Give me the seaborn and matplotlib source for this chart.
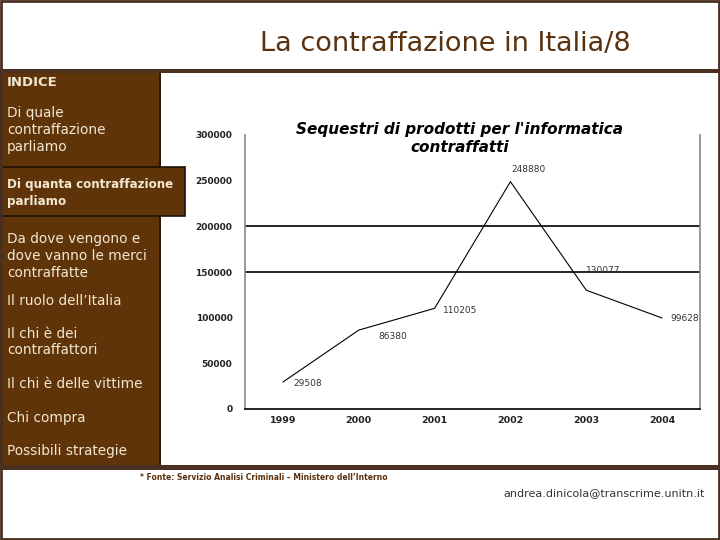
import matplotlib
matplotlib.use("Agg")
import matplotlib.pyplot as plt
from matplotlib.patches import Rectangle
import seaborn as sns
import pandas as pd

# ---- data ----
years = ["1999", "2000", "2001", "2002", "2003", "2004"]
seizures = [29508, 86380, 110205, 248880, 130077, 99628]
y_ticks = [0, 50000, 100000, 150000, 200000, 250000, 300000]
grid_values = [150000, 200000]

slide_title = "La contraffazione in Italia/8"
chart_title_lines = ["Sequestri di prodotti per l'informatica", "contraffatti"]
menu_items = [
    "INDICE",
    "Di quale\ncontraffazione\nparliamo",
    "Di quanta contraffazione\nparliamo",
    "Da dove vengono e\ndove vanno le merci\ncontraffatte",
    "Il ruolo dell\u2019Italia",
    "Il chi è dei\ncontraffattori",
    "Il chi è delle vittime",
    "Chi compra",
    "Possibili strategie",
]
source_note = "* Fonte: Servizio Analisi Criminali \u2013 Ministero dell\u2019Interno"
email = "andrea.dinicola@transcrime.unitn.it"

df = pd.DataFrame({"anno": years, "sequestri": seizures})

sns.set_theme(style="white")
plt.rcParams["font.family"] = ["DejaVu Sans"]

W, H = 720, 540
fig = plt.figure(figsize=(7.2, 5.4), dpi=100)
fig.patch.set_facecolor("white")

BROWN = "#5e3408"
DARK = "#4a3020"
CREAM = "#f3e7d2"


def fx(x):
    return x / W


def fy(y):
    return 1 - y / H


def rect(x0, y0, x1, y1, fc, ec="none", lw=0, z=0):
    fig.patches.append(Rectangle((fx(x0), fy(y1)), fx(x1) - fx(x0), fy(y0) - fy(y1),
                                 transform=fig.transFigure, facecolor=fc,
                                 edgecolor=ec, linewidth=lw, zorder=z))


# slide frame
rect(1, 1, 719, 539, "none", ec=DARK, lw=2, z=5)
# header separator
rect(0, 69, 720, 73, DARK, z=2)
# sidebar
rect(0, 73, 160, 466, BROWN, z=1)
rect(159, 73, 161, 466, "#2b1a0a", z=2)
# footer separator
rect(0, 465, 720, 470, DARK, z=2)
# highlighted menu item
rect(0, 167, 185, 216, BROWN, ec="#1e1206", lw=1.2, z=3)

fig.text(fx(445), fy(44), slide_title, ha="center", va="center",
         fontsize=19.5, color="#5a3210", zorder=6)

menu_y = [83, 130, 193, 256, 301, 342, 384, 418, 451]
menu_size = [9.5, 9.8, 8.6, 9.8, 9.8, 9.8, 9.8, 9.8, 9.8]
for i, (txt, yy, fs) in enumerate(zip(menu_items, menu_y, menu_size)):
    bold = i in (0, 2)
    fig.text(fx(7), fy(yy), txt, ha="left", va="center", fontsize=fs,
             color=CREAM, fontweight="bold" if bold else "normal",
             linespacing=1.25 if i != 2 else 1.35, zorder=6)

fig.text(fx(140), fy(477), source_note, ha="left", va="center", fontsize=5.5,
         fontweight="bold", color="#5a3210", zorder=6)
fig.text(fx(705), fy(493), email, ha="right", va="center", fontsize=8,
         color="#333333", zorder=6)

# ---- chart ----
ax = fig.add_axes([fx(245), fy(409), fx(700) - fx(245), fy(135) - fy(409)])
ax.set_facecolor("none")
sns.lineplot(data=df, x="anno", y="sequestri", ax=ax, color="black",
             linewidth=0.8, sort=False)
ax.set_xlim(-0.5, len(years) - 0.5)
ax.set_ylim(0, 300000)
ax.set_yticks(y_ticks)
ax.set_yticklabels([str(v) for v in y_ticks], fontsize=6.5, fontweight="bold",
                   color="#222222")
ax.set_xticks(range(len(years)))
ax.set_xticklabels(years, fontsize=6.8, fontweight="bold", color="#222222")
ax.set_xticks([i + 0.5 for i in range(len(years) - 1)], minor=True)
ax.tick_params(axis="x", which="major", length=0, pad=5)
ax.tick_params(axis="x", which="minor", length=3, direction="out", color="#555555")
ax.tick_params(axis="y", length=3, direction="out", color="#555555", pad=6)
ax.set_xlabel("")
ax.set_ylabel("")
for v in grid_values:
    ax.axhline(v, color="black", linewidth=1.2, zorder=1)
for s in ("left", "right"):
    ax.spines[s].set_color("#888888")
    ax.spines[s].set_linewidth(1.2)
ax.spines["bottom"].set_color("black")
ax.spines["bottom"].set_linewidth(1.2)
ax.spines["top"].set_visible(False)

offsets = [(10, -1, "left"), (20, -6, "left"), (8, -2, "left"),
           (18, 12, "center"), (17, 20, "center"), (8, 0, "left")]
for i, (val, (dx, dy, ha)) in enumerate(zip(seizures, offsets)):
    ax.annotate(str(val), (i, val), xytext=(dx, dy), textcoords="offset pixels",
                ha=ha, va="center", fontsize=6.5, color="#333333")

for line, yy in zip(chart_title_lines, [129.5, 147.5]):
    fig.text(fx(460), fy(yy), line, ha="center", va="center", fontsize=11,
             fontweight="bold", fontstyle="italic", color="black", zorder=6)

fig.savefig("out.png", dpi=100, facecolor=fig.get_facecolor())
